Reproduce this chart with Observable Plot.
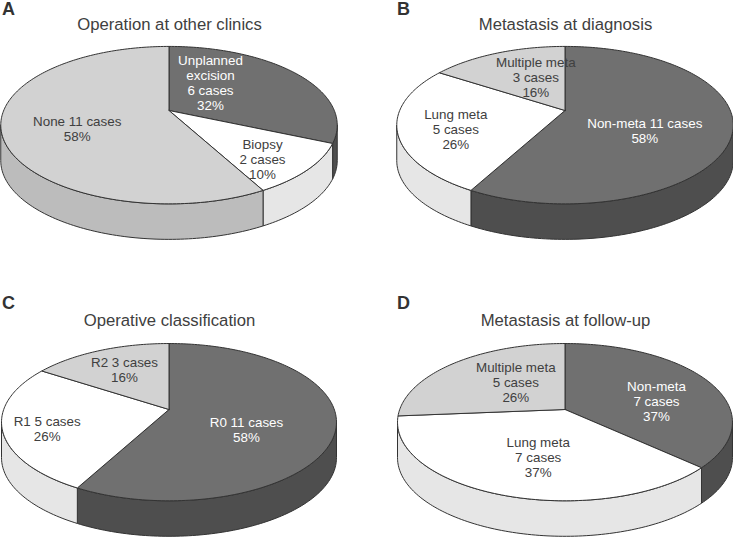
<!DOCTYPE html>
<html>
<head>
<meta charset="utf-8">
<style>html,body{margin:0;padding:0;background:#fff}svg{display:block}</style>
<script src="https://cdn.jsdelivr.net/npm/d3@7"></script>
<script src="https://cdn.jsdelivr.net/npm/@observablehq/plot@0.6"></script>
</head>
<body>
<div id="chart"></div>
<script>
// Data: cases per slice, clockwise from 12 o'clock
const panelLetters = ["A", "B", "C", "D"];
const panelTitles = ["Operation at other clinics", "Metastasis at diagnosis", "Operative classification", "Metastasis at follow-up"];
const casesA = [6, 2, 11];
const casesB = [11, 5, 3];
const casesC = [11, 5, 3];
const casesD = [7, 7, 5];
const labelsA = ["Unplanned\nexcision\n6 cases\n32%", "Biopsy\n2 cases\n10%", "None 11 cases\n58%"];
const labelsB = ["Non-meta 11 cases\n58%", "Lung meta\n5 cases\n26%", "Multiple meta\n3 cases\n16%"];
const labelsC = ["R0 11 cases\n58%", "R1 5 cases\n26%", "R2 3 cases\n16%"];
const labelsD = ["Non-meta\n7 cases\n37%", "Lung meta\n7 cases\n37%", "Multiple meta\n5 cases\n26%"];

// Styles and layout
const topColors = ["#707070", "#ffffff", "#d2d2d2"];
const wallColors = ["#4e4e4e", "#e6e6e6", "#bcbcbc"];
const textColors = ["#ffffff", "#404040", "#404040"];
const centers = [[168.5, 110], [564.5, 110], [168.5, 409], [564.5, 409]];
const perspective = [0.186, 0.186, 0.161, 0.161];
const radiusY = [76, 76, 76.6, 76.6];
const titlePos = [[169, 24], [565, 24], [169, 319.7], [565, 319.7]];
const letterPos = [[8, 9], [403, 9], [8, 303], [403, 303]];
const labelPos = [
  [[210, 82.5], [262, 158.5], [76.7, 128.5]],
  [[644.3, 130], [455.3, 128.3], [535.3, 77]],
  [[246, 429.5], [46.7, 428], [124, 369.5]],
  [[656, 400.3], [537.7, 456.3], [515.3, 381.3]]
];
const Rx = 165.3, DEPTH = 35.5;

const allCases = [casesA, casesB, casesC, casesD];
const allLabels = [labelsA, labelsB, labelsC, labelsD];

function project(p, a, dy = 0) {
  const c = centers[p], K = perspective[p];
  const X = Math.sin(a), Y = Math.cos(a), w = 1 + K * Y;
  return {x: c[0] + Rx * X / w, y: c[1] - radiusY[p] * Y / w + dy};
}
function arc(p, a0, a1, dy = 0) {
  const n = Math.max(2, Math.ceil(Math.abs(a1 - a0) / 0.02));
  return d3.range(n + 1).map(i => project(p, a0 + (a1 - a0) * i / n, dy));
}

const walls = [], tops = [], labels = [];
allCases.forEach((cases, p) => {
  const c = centers[p], total = d3.sum(cases);
  const visA0 = Math.acos(-perspective[p]), visA1 = 2 * Math.PI - visA0;
  let cum = 0;
  cases.forEach((v, i) => {
    const a0 = cum / total * 2 * Math.PI;
    cum += v;
    const a1 = cum / total * 2 * Math.PI;
    const id = `${p}-${i}`;
    const top = [{x: c[0], y: c[1]}, ...arc(p, a0, a1), {x: c[0], y: c[1]}];
    top.forEach(q => tops.push({...q, id, fill: topColors[i]}));
    const w0 = Math.max(a0, visA0), w1 = Math.min(a1, visA1);
    if (w1 > w0) {
      const poly = [...arc(p, w0, w1), ...arc(p, w1, w0, DEPTH)];
      poly.push(poly[0]);
      poly.forEach(q => walls.push({...q, id, fill: wallColors[i]}));
    }
    labels.push({
      text: allLabels[p][i],
      x: labelPos[p][i][0], y: labelPos[p][i][1],
      crossing: p === 1 && i === 2, // "Multiple meta" in panel B runs over the dark slice
      color: textColors[i]
    });
  });
});

function crossingGradient() {
  const defs = d3.create("svg:defs");
  const g = defs.append("linearGradient").attr("id", "crossing")
    .attr("gradientUnits", "userSpaceOnUse")
    .attr("x1", 0).attr("x2", 733).attr("y1", 0).attr("y2", 0);
  const f = centers[1][0] / 733;
  g.append("stop").attr("offset", f).attr("stop-color", "#404040");
  g.append("stop").attr("offset", f).attr("stop-color", "#ffffff");
  return defs.node();
}

const FONT = "'Liberation Sans', Arial, sans-serif";
const titles = panelTitles.map((t, i) => ({t, x: titlePos[i][0], y: titlePos[i][1]}));
const letters = panelLetters.map((t, i) => ({t, x: letterPos[i][0], y: letterPos[i][1]}));
const edge = {stroke: "#333333", strokeWidth: 1, strokeLinejoin: "round"};
const labelStyle = {x: "x", y: "y", text: "text", fontSize: 13.4, lineHeight: 1.12, fontFamily: FONT};

const chart = Plot.plot({
  width: 733, height: 537,
  marginTop: 0, marginRight: 0, marginBottom: 0, marginLeft: 0,
  x: {domain: [0, 733], range: [0, 733], axis: null},
  y: {domain: [0, 537], range: [0, 537], axis: null},
  color: {type: "identity"},
  style: {background: "#fff", fontFamily: FONT},
  marks: [
    crossingGradient,
    Plot.line(walls, {x: "x", y: "y", z: "id", fill: "fill", ...edge}),
    Plot.line(tops, {x: "x", y: "y", z: "id", fill: "fill", ...edge}),
    Plot.text(titles, {x: "x", y: "y", text: "t", fontSize: 16.7, fill: "#404040", fontFamily: FONT}),
    Plot.text(letters, {x: "x", y: "y", text: "t", fontSize: 18, fontWeight: "bold", fill: "#333333", fontFamily: FONT}),
    Plot.text(labels.filter(d => !d.crossing), {...labelStyle, fill: "color"}),
    Plot.text(labels.filter(d => d.crossing), {...labelStyle, fill: "url(#crossing)"})
  ]
});
document.getElementById("chart").appendChild(chart);
</script>
</body>
</html>
